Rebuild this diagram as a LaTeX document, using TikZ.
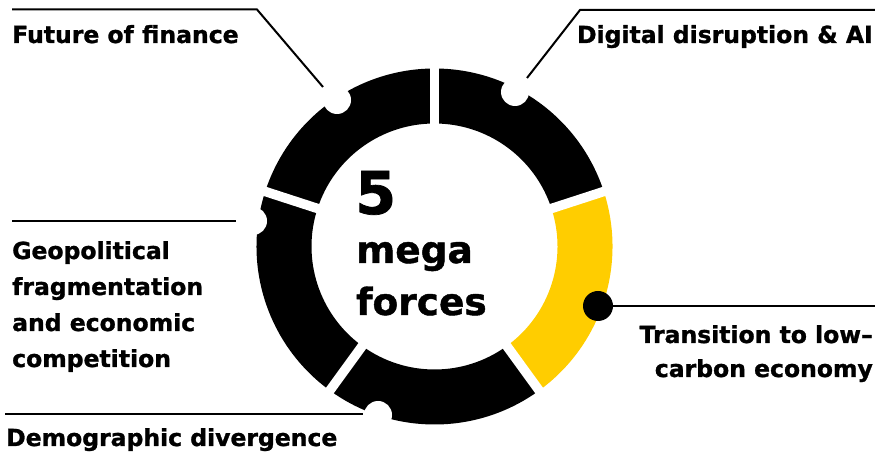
\documentclass[tikz,border=0pt]{standalone}
\usepackage{fontspec}
\setmainfont{DejaVu Sans}[BoldFeatures={FakeBold=1.2}]
\usetikzlibrary{calc}
\definecolor{megayellow}{RGB}{255,205,0}
\begin{document}
\begin{tikzpicture}[x=1pt,y=1pt,
  lbl/.style={font=\fontsize{23.5}{36}\selectfont\bfseries, inner sep=0pt},
  lead/.style={line width=2pt, black},
  notch/.style={circle, fill=white, minimum size=28pt, inner sep=0pt},
  bigdot/.style={circle, fill=black, minimum size=30pt, inner sep=0pt},
  gapline/.style={white, line width=9.5pt}]
\useasboundingbox (0,0) rectangle (875,452);
\coordinate (C) at (434.5,205.5);
\def\Ro{178}\def\Ri{123}
% ring segments
\foreach \a/\b/\c in {18/90/black, 90/162/black, 162/234/black, 234/306/black, -54/18/megayellow}{
  \fill[\c] ($(C)+(\a:\Ro)$) arc[start angle=\a, end angle=\b, radius=\Ro]
     -- ($(C)+(\b:\Ri)$) arc[start angle=\b, end angle=\a, radius=\Ri] -- cycle;
}
\foreach \g in {90,18,-54,-126,162}{
  \draw[gapline] ($(C)+(\g:\Ri-5)$) -- ($(C)+(\g:\Ro+5)$);
}
% notches and dot
\node[notch] (nF) at (337,352) {};
\node[notch] (nD) at (515,360) {};
\node[notch] (nG) at (253,231) {};
\node[notch] (nM) at (378,37) {};
\node[bigdot] (nT) at (598,146) {};
% leader coordinates
\coordinate (f1) at (12,442.5);
\coordinate (f2) at (257,442.5);
\coordinate (f3) at (323,365);
\coordinate (d1) at (875,442);
\coordinate (d2) at (580,442);
\coordinate (d3) at (527,374);
\coordinate (g1) at (12,231);
\coordinate (g2) at (236,231);
\coordinate (m1) at (5,37.5);
\coordinate (m2) at (363,37.5);
\coordinate (t2) at (875,146);
\draw[lead] (f1) -- (f2) -- (f3);
\draw[lead] (d1) -- (d2) -- (d3);
\draw[lead] (g1) -- (g2);
\draw[lead] (m1) -- (m2);
\draw[lead] (nT.center) -- (t2);
% labels
\node[lbl, anchor=base west] (tF) at (12,409) {Future of finance};
\node[lbl, anchor=base east] (tD) at (873,409) {Digital disruption \& AI};
\node[lbl, anchor=base west, align=left] (tG) at (12,85) {Geopolitical\\fragmentation\\and economic\\competition};
\node[lbl, anchor=base west] (tM) at (6,6) {Demographic divergence};
\node[lbl, anchor=base east, align=right, font=\fontsize{23.5}{34}\selectfont\bfseries] (tT) at (873,75) {Transition to low–\\carbon economy};
% center
\node[inner sep=0pt, anchor=base west, font=\fontsize{59}{59}\selectfont\bfseries] (c5) at (355,238) {5};
\node[inner sep=0pt, anchor=base west, font=\fontsize{37.5}{52}\selectfont\bfseries, align=left] (cm) at (356,137) {mega\\forces};
\end{tikzpicture}
\end{document}
